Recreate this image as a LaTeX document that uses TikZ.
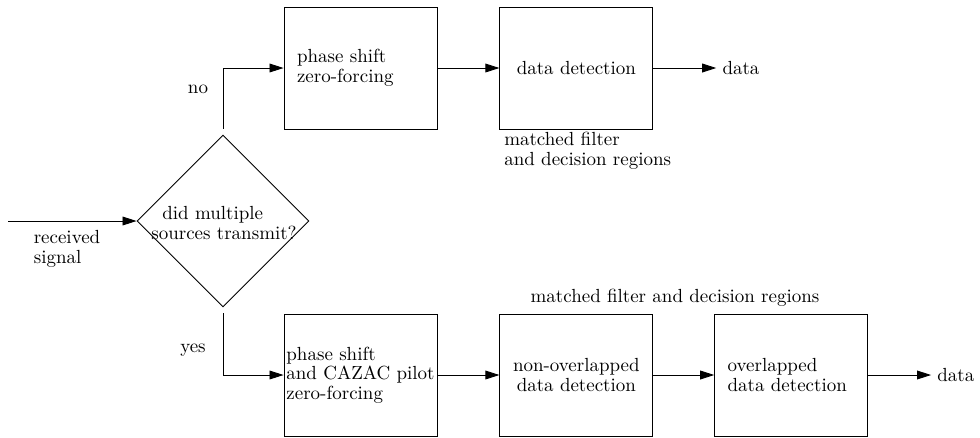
\documentclass[tikz,border=0pt]{standalone}
\usepackage{amsmath}
\usetikzlibrary{arrows.meta, shapes.geometric, positioning}

\begin{document}
\begin{tikzpicture}[x=0.02cm,y=-0.02cm,line width=0.5pt,
			font=\fontsize{10.8}{11.2}\selectfont,
			arr/.style={-{Triangle[length=8pt,width=5pt]}},
			block/.style={draw, rectangle, minimum width=3.06cm, minimum height=2.44cm, inner sep=0pt}]
		\useasboundingbox (0,0) rectangle (980,437);

		%% Nodes
		\begin{scope}
			\node (decide) at (223,221) [draw, diamond, minimum width=3.44cm, minimum height=3.44cm, inner sep=0pt] {};
			\node (decide_text) at (224,223) [align=left, inner sep=0pt] {\hspace*{0.22cm}did multiple\\sources transmit?};
			\coordinate (input) at (8,221);
			\node (received) at (67,249) [align=left, inner sep=0pt] {received\\ signal};
		\end{scope}

		% No branch
		\begin{scope}
			\node (ps_top) at (360.5,68) [block, text width=2.54cm, align=left] {phase shift\\zero-forcing\\[0.1cm]};
			\node (dd_top) [block, right = 1.24cm of ps_top, align=center] {data detection};
			\node (data_top) [right = 1.26cm of dd_top] {data};
			\node (mf_top) at (498,151) [anchor=west, align=left] {matched filter\\and decision regions};
			\node (no) at (198,89) {no};
		\end{scope}

		% Yes branch
		\begin{scope}
			\node (ps_bot) at (360.5,375) [block, align=left] {phase shift\\and CAZAC pilot\\zero-forcing};
			\node (nd_bot) [block, right = 1.24cm of ps_bot, align=center] {non-overlapped\\data detection};
			\node (od_bot) [block, right = 1.22cm of nd_bot, text width=2.54cm, align=left] {overlapped\\data detection};
			\node (data_bot) [right = 1.26cm of od_bot] {data};
			\node (mf_bot) at (675,298) {matched filter and decision regions};
			\node (yes) at (193,350) {yes};
		\end{scope}

		%% Edges
		\draw[arr] (input) -- (decide.west);
		\draw[arr] ([yshift=0.12cm]decide.north) |- (ps_top.west);
		\draw[arr] ([yshift=-0.12cm]decide.south) |- (ps_bot.west);

		\draw[arr] (ps_top) -- (dd_top);
		\draw[arr] (dd_top) -- (data_top);

		\draw[arr] (ps_bot) -- (nd_bot);
		\draw[arr] (nd_bot) -- (od_bot);
		\draw[arr] (od_bot) -- (data_bot);
	\end{tikzpicture}
\end{document}
